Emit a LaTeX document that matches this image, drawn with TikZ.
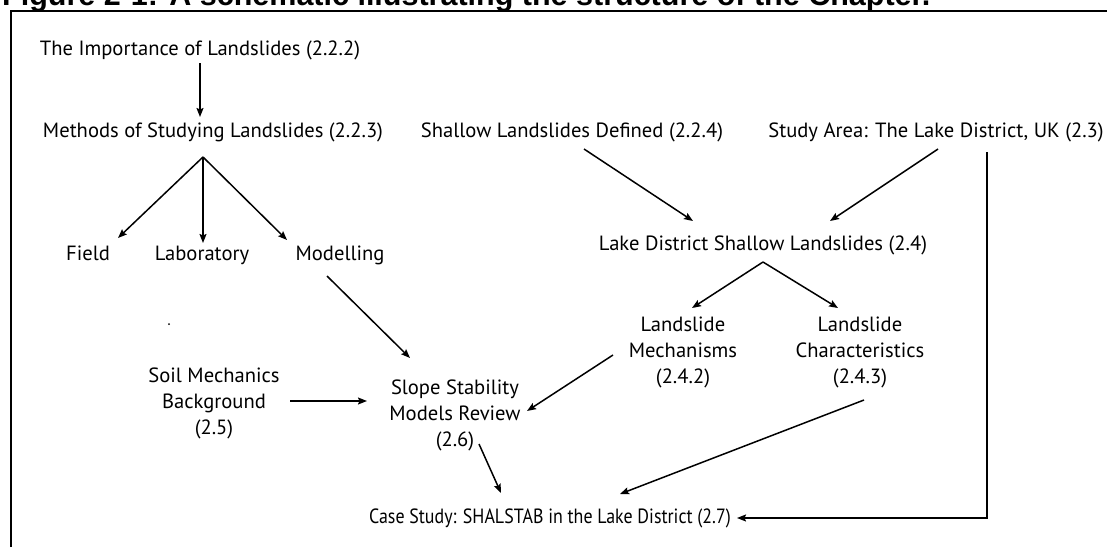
\documentclass[tikz,border=0pt]{standalone}
\usepackage{fontspec}
\setmainfont{PT Sans}
\newfontfamily\titlefont{Liberation Sans}
\usetikzlibrary{arrows.meta,calc}
\begin{document}
\begin{tikzpicture}[x=1pt,y=-1pt,
  lbl/.style={inner sep=0pt, anchor=base, font=\fontsize{20.6}{26}\selectfont, align=center},
  arr/.style={line width=1.5pt, -{Stealth[length=9pt,width=7pt,inset=1.5pt]}}]
\useasboundingbox (0,0) rectangle (1107,547);
\fill[white] (0,0) rectangle (1107,547);
\begin{scope}
\clip (0,0) rectangle (1107,547);
\node[anchor=base west, inner sep=0pt, font=\titlefont\bfseries\fontsize{30.5}{30.5}\selectfont] (title) at (2,5) {Figure 2-1: A schematic illustrating the structure of the Chapter.};
\end{scope}
\draw[line width=2.5pt] (11,547) -- (11,11) -- (1107,11);

\node[lbl] (imp) at (200,55) {The Importance of Landslides (2.2.2)};
\node[lbl] (meth) at (213,137) {Methods of Studying Landslides (2.2.3)};
\node[lbl] (shal) at (572,137) {Shallow Landslides Defined (2.2.4)};
\node[lbl] (study) at (936,137) {Study Area: The Lake District, UK (2.3)};
\node[lbl] (field) at (88,260) {Field};
\node[lbl] (lab) at (202,260) {Laboratory};
\node[lbl] (mod) at (340,260) {Modelling};
\node[lbl] (ldsl) at (763,250) {Lake District Shallow Landslides (2.4)};
\node[lbl] (mech) at (683,383) {Landslide\\Mechanisms\\(2.4.2)};
\node[lbl] (char) at (860,383) {Landslide\\Characteristics\\(2.4.3)};
\node[lbl] (soil) at (214,434) {Soil Mechanics\\Background\\(2.5)};
\node[lbl] (slope) at (455,446) {Slope Stability\\Models Review\\(2.6)};
\node[lbl] (case) at (550,523) {\scalebox{0.87}[1]{Case Study: SHALSTAB in the Lake District (2.7)}};

\fill (169,324) circle (1pt);

\coordinate (methapex) at ($(meth.base)+(-10,20)$);
\coordinate (ldslapex) at ($(ldsl.base)+(0,12)$);
\draw[arr] ($(imp.base)+(0,8)$) -- ($(meth.base)+(-13,-20)$);
\draw[arr] (methapex) -- ($(field.base)+(30,-22)$);
\draw[arr] (methapex) -- ($(lab.base)+(1,-17)$);
\draw[arr] (methapex) -- ($(mod.base)+(-53,-20)$);
\draw[arr] ($(shal.base)+(12,12)$) -- ($(ldsl.base)+(-70,-29)$);
\draw[arr] ($(study.base)+(2,12)$) -- ($(ldsl.base)+(67,-29)$);
\draw[arr] ($(study.base)+(51,15)$) |- ($(case.base)+(187,-5)$);
\draw[arr] (ldslapex) -- ($(mech.base)+(9,-75)$);
\draw[arr] (ldslapex) -- ($(char.base)+(-22,-75)$);
\draw[arr] ($(mod.base)+(-13,16)$) -- ($(slope.base)+(-45,-88)$);
\draw[arr] ($(soil.base)+(76,-33)$) -- ($(slope.base)+(-88,-45)$);
\draw[arr] ($(mech.base)+(-70,-28)$) -- ($(slope.base)+(72,-35)$);
\draw[arr] ($(char.base)+(4,17)$) -- ($(case.base)+(70,-29)$);
\draw[arr] ($(slope.base)+(24,-2)$) -- ($(case.base)+(-49,-30)$);
\end{tikzpicture}
\end{document}
